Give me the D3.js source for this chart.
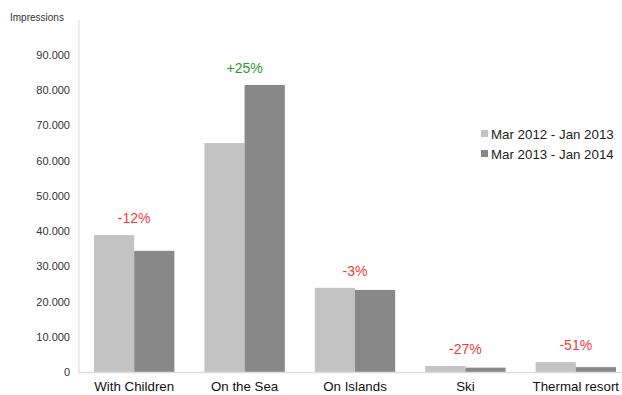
<!DOCTYPE html>
<html>
<head>
<meta charset="utf-8">
<script src="https://cdn.jsdelivr.net/npm/d3@7"></script>
<style>
  html, body { margin: 0; padding: 0; background: #fff; }
  svg { display: block; font-family: "Liberation Sans", Arial, sans-serif; }
</style>
</head>
<body>
<svg id="chart" width="622" height="395"></svg>
<script>
// Impressions per holiday theme, two yearly periods
const categories = ["With Children", "On the Sea", "On Islands", "Ski", "Thermal resort"];
const seriesNames = ["Mar 2012 - Jan 2013", "Mar 2013 - Jan 2014"];
const period2012 = [38900, 65000, 23900, 1700, 2800];
const period2013 = [34400, 81500, 23300, 1240, 1370];
const changeLabels = ["-12%", "+25%", "-3%", "-27%", "-51%"];
const yTicks = [0, 10000, 20000, 30000, 40000, 50000, 60000, 70000, 80000, 90000];

const colors = ["#c3c3c3", "#888888"];

const svg = d3.select("#chart");
const margin = { left: 79, top: 20, baseline: 372 };
const plotWidth = 552;

const x = d3.scaleBand()
  .domain(categories)
  .range([margin.left, margin.left + plotWidth])
  .paddingInner(0.2718)
  .paddingOuter(0.1359);

const xs = d3.scaleBand()
  .domain(seriesNames)
  .range([0, x.bandwidth()]);

const y = d3.scaleLinear()
  .domain([0, 90000])
  .range([margin.baseline, 55]);

// y axis: labels only, thousands separated with a dot
const fmt = v => v === 0 ? "0" : d3.format(",")(v).replace(/,/g, ".");
const yAxis = d3.axisLeft(y).tickValues(yTicks).tickFormat(fmt).tickSize(0).tickPadding(9);
const gy = svg.append("g").attr("transform", `translate(${margin.left},0)`).call(yAxis);
gy.select(".domain").remove();
gy.selectAll("text").attr("font-size", 11).attr("fill", "#333")
  .attr("font-family", "Liberation Sans, Arial, sans-serif");

// axis lines
svg.append("line")
  .attr("x1", margin.left).attr("x2", margin.left)
  .attr("y1", margin.top).attr("y2", margin.baseline)
  .attr("stroke", "#dcdcdc").attr("stroke-width", 1);

svg.append("text")
  .attr("x", 10).attr("y", 21)
  .attr("font-size", 10).attr("fill", "#333")
  .text("Impressions");

// bars
const rows = categories.map((c, i) => ({ cat: c, values: [period2012[i], period2013[i]] }));
const groups = svg.append("g").selectAll("g").data(rows).join("g")
  .attr("transform", d => `translate(${x(d.cat)},0)`);

groups.selectAll("rect")
  .data(d => d.values.map((v, j) => ({ name: seriesNames[j], value: v, j })))
  .join("rect")
  .attr("x", d => xs(d.name))
  .attr("width", xs.bandwidth())
  .attr("y", d => y(d.value))
  .attr("height", d => y(0) - y(d.value))
  .attr("fill", d => colors[d.j]);

svg.append("line")
  .attr("x1", margin.left - 1).attr("x2", 622)
  .attr("y1", margin.baseline + 0.5).attr("y2", margin.baseline + 0.5)
  .attr("stroke", "#dcdcdc").attr("stroke-width", 1.5);

// x axis category labels
const xAxis = d3.axisBottom(x).tickSize(0).tickPadding(10);
const gx = svg.append("g").attr("transform", `translate(0,${margin.baseline})`).call(xAxis);
gx.select(".domain").remove();
gx.selectAll("text").attr("font-size", 13.3).attr("fill", "#111")
  .attr("font-family", "Liberation Sans, Arial, sans-serif");

// change labels above each group
svg.append("g").selectAll("text").data(rows).join("text")
  .attr("x", d => x(d.cat) + x.bandwidth() / 2)
  .attr("y", d => y(d3.max(d.values)) - 12)
  .attr("text-anchor", "middle")
  .attr("font-size", 14)
  .attr("fill", (d, i) => changeLabels[i].startsWith("+") ? "#2e9a2e" : "#f23c3c")
  .text((d, i) => changeLabels[i]);

// legend
const legend = svg.append("g").attr("transform", "translate(481,128)");
seriesNames.forEach((s, i) => {
  const g = legend.append("g").attr("transform", `translate(0,${i * 20})`);
  g.append("rect").attr("width", 7).attr("height", 7).attr("y", 2).attr("fill", colors[i]);
  g.append("text").attr("x", 10).attr("y", 10.5).attr("font-size", 13.3).attr("fill", "#222").text(s);
});
</script>
</body>
</html>
